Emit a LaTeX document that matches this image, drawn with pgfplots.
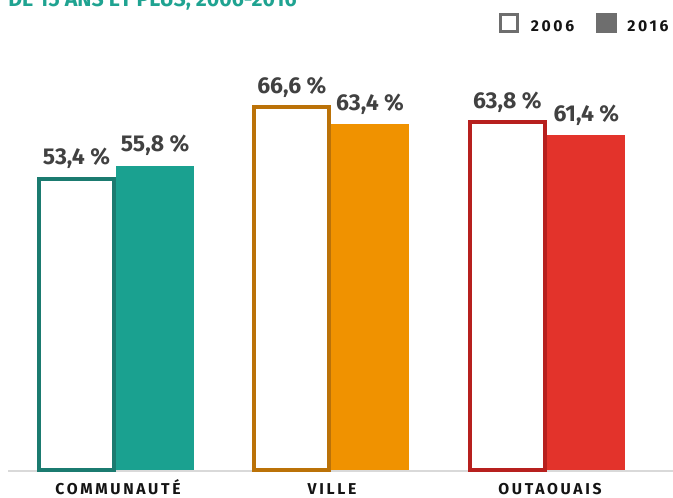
\documentclass[border=0pt]{standalone}
\usepackage{pgfplots}
\pgfplotsset{compat=1.18}
\usepackage{fontspec}
\setmainfont{Fira Sans}
\newfontfamily\labfont{Fira Sans}
\newfontfamily\catfont[LetterSpace=17]{Fira Sans}
\definecolor{tealF}{HTML}{1AA190}
\definecolor{tealD}{HTML}{1B7B70}
\definecolor{orgF}{HTML}{F09200}
\definecolor{orgD}{HTML}{BB7208}
\definecolor{redF}{HTML}{E3332B}
\definecolor{redD}{HTML}{B7201E}
\definecolor{labgray}{HTML}{414141}
\definecolor{basegray}{HTML}{D9D9D9}
\definecolor{leggray}{HTML}{6E6E6E}
\definecolor{titleteal}{HTML}{1FA391}
\begin{document}
\begin{tikzpicture}[x=0.75pt,y=0.75pt]
\useasboundingbox (0,0) rectangle (673,497);
\clip (0,0) rectangle (673,497);
\begin{axis}[
  at={(0,0)}, anchor=south west,
  scale only axis, width=504.75pt, height=372.75pt,
  xmin=0, xmax=673, ymin=-4.954, ymax=86.24,
  clip=false,
  /pgf/number format/assume math mode=true,
  axis line style={draw=none}, tick style={draw=none},
  ytick=\empty,
  xtick={118,332,550},
  xticklabels={COMMUNAUTÉ, VILLE, OUTAOUAIS},
  xticklabel style={font=\catfont\bfseries\fontsize{11.8}{12}\selectfont, text=black!92, anchor=base, inner sep=0pt, yshift=2.0pt},
  nodes near coords={\pgfmathprintnumber[fixed,fixed zerofill,precision=1,use comma,assume math mode=true]{\pgfplotspointmeta}~\%},
  nodes near coords style={font=\labfont\bfseries\fontsize{17.2}{18}\selectfont, text=labgray, anchor=base, inner sep=0pt, yshift=10.5pt},
]
\draw[basegray, line width=1.5pt] (axis cs:8,-0.27) -- (axis cs:673,-0.27);
% 2016 bars (filled)
\addplot[ybar, bar width=78, bar shift=0pt, fill=tealF, draw=none] coordinates {(155,55.8)};
\addplot[ybar, bar width=78, bar shift=0pt, fill=orgF, draw=none] coordinates {(370,63.4)};
\addplot[ybar, bar width=78, bar shift=0pt, fill=redF, draw=none] coordinates {(586.4,61.4)};
% 2006 bars (outlined)
\addplot[ybar, bar width=75, bar shift=0pt, fill=white, draw=tealD, line width=3pt] coordinates {(76.5,53.4)};
\addplot[ybar, bar width=75, bar shift=0pt, fill=white, draw=orgD, line width=3pt] coordinates {(291.8,66.6)};
\addplot[ybar, bar width=75, bar shift=0pt, fill=white, draw=redD, line width=3pt] coordinates {(507.3,63.8)};
\end{axis}
% title (cropped at top)
\node[anchor=base west, inner sep=0pt, text=titleteal, font=\bfseries\fontsize{16}{17}\selectfont] at (8,490) {DE 15 ANS ET PLUS, 2006-2016};
% legend
\draw[leggray, line width=2.2pt] (500.5,465.2) rectangle (517.5,482.8);
\fill[leggray] (596,463.7) rectangle (617,484.3);
\node[anchor=base west, inner sep=0pt, font=\catfont\bfseries\fontsize{11.8}{12}\selectfont, text=black!92] at (530.5,465) {2006};
\node[anchor=base west, inner sep=0pt, font=\catfont\bfseries\fontsize{11.8}{12}\selectfont, text=black!92] at (627,465) {2016};
\end{tikzpicture}
\end{document}
